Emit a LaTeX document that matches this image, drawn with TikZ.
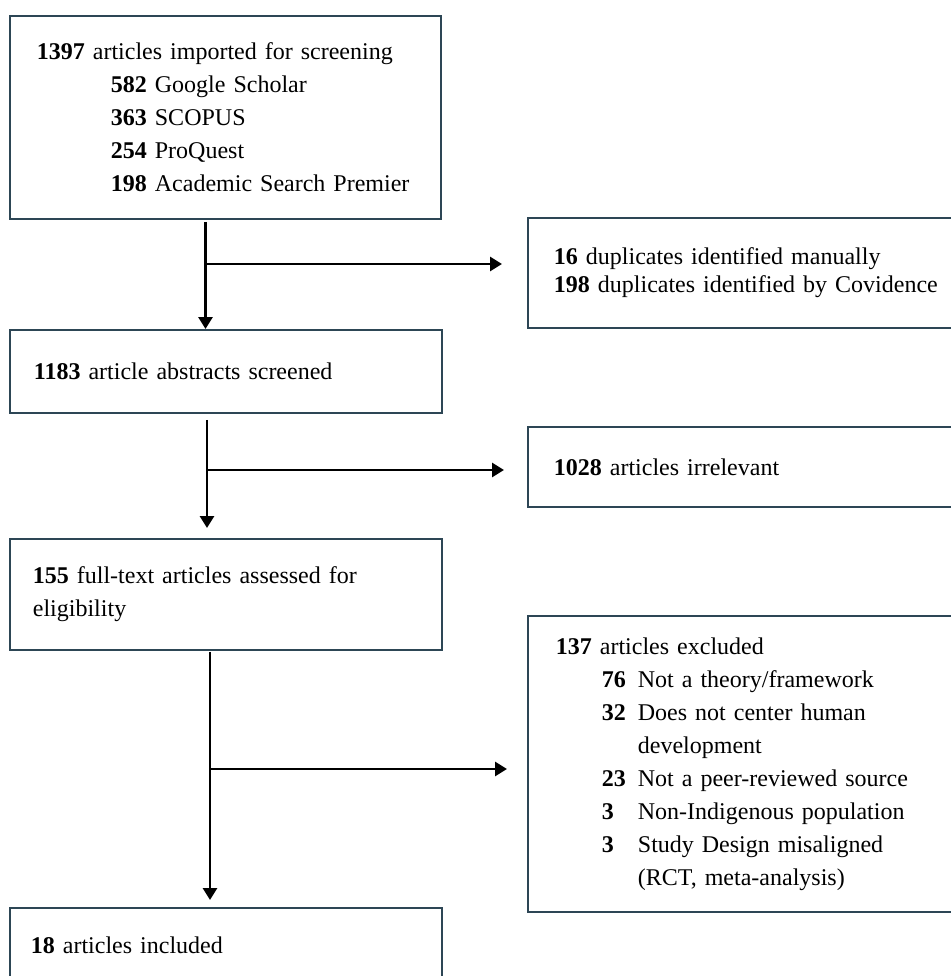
\documentclass[tikz,border=0pt]{standalone}
\usepackage{fontspec}
\setmainfont{Liberation Serif}
\usetikzlibrary{arrows.meta}
\definecolor{boxcol}{RGB}{45,70,85}
\begin{document}
\begin{tikzpicture}[x=1pt,y=1pt,
  box/.style={draw=boxcol, line width=1.8pt, anchor=north west, inner ysep=0pt, align=left, font=\fontsize{24}{33}\selectfont},
  arr/.style={line width=2.8pt, -{Triangle[length=12pt,width=14pt]}}]
\useasboundingbox (0,0) rectangle (950,-976);
\node[box, minimum height=203pt, inner xsep=27pt, text width=377pt] (b1) at (9,-15) {%
\textbf{1397} articles imported for screening\\
\hspace*{74pt}\textbf{582} Google Scholar\\
\hspace*{74pt}\textbf{363} SCOPUS\\
\hspace*{74pt}\textbf{254} ProQuest\\
\hspace*{74pt}\textbf{198} Academic Search Premier};
\node[box, minimum height=110pt, inner xsep=26pt, text width=391pt] (b2) at (527,-217) {%
\textbf{16} duplicates identified manually\\[-5pt]
\textbf{198} duplicates identified by Covidence};
\node[box, minimum height=83pt, inner xsep=24pt, text width=384pt] (b3) at (9,-329) {%
\textbf{1183} article abstracts screened};
\node[box, minimum height=80pt, inner xsep=26pt, text width=391pt] (b4) at (527,-426) {%
\textbf{1028} articles irrelevant};
\node[box, minimum height=111pt, inner xsep=23pt, text width=386pt] (b5) at (9,-538) {%
\textbf{155} full-text articles assessed for\\
eligibility};
\node[box, minimum height=296pt, inner xsep=28pt, text width=387pt] (b6) at (527,-615) {%
\textbf{137} articles excluded\\
\hspace*{46pt}\makebox[36pt][l]{\textbf{76}}Not a theory/framework\\
\hspace*{46pt}\makebox[36pt][l]{\textbf{32}}Does not center human\\
\hspace*{82pt}development\\
\hspace*{46pt}\makebox[36pt][l]{\textbf{23}}Not a peer-reviewed source\\
\hspace*{46pt}\makebox[36pt][l]{\textbf{3}}Non-Indigenous population\\
\hspace*{46pt}\makebox[36pt][l]{\textbf{3}}Study Design misaligned\\
\hspace*{82pt}(RCT, meta-analysis)};
\node[box, minimum height=74pt, inner xsep=21pt, text width=390pt] (b7) at (9,-907) {%
\textbf{18} articles included};
\coordinate (v1) at (205.5,-264);
\coordinate (v2) at (207,-470);
\coordinate (v3) at (210,-769);
\draw[arr, shorten <=2pt] (b1.south -| v1) -- (b3.north -| v1);
\draw[arr, shorten >=25pt] (v1) -- (v1 -| b2.west);
\draw[arr, shorten <=6pt, shorten >=10pt] (b3.south -| v2) -- (b5.north -| v2);
\draw[arr, shorten >=23pt] (v2) -- (v2 -| b4.west);
\draw[arr, shorten <=1pt, shorten >=7pt] (b5.south -| v3) -- (b7.north -| v3);
\draw[arr, shorten >=20pt] (v3) -- (v3 -| b6.west);
\end{tikzpicture}
\end{document}
